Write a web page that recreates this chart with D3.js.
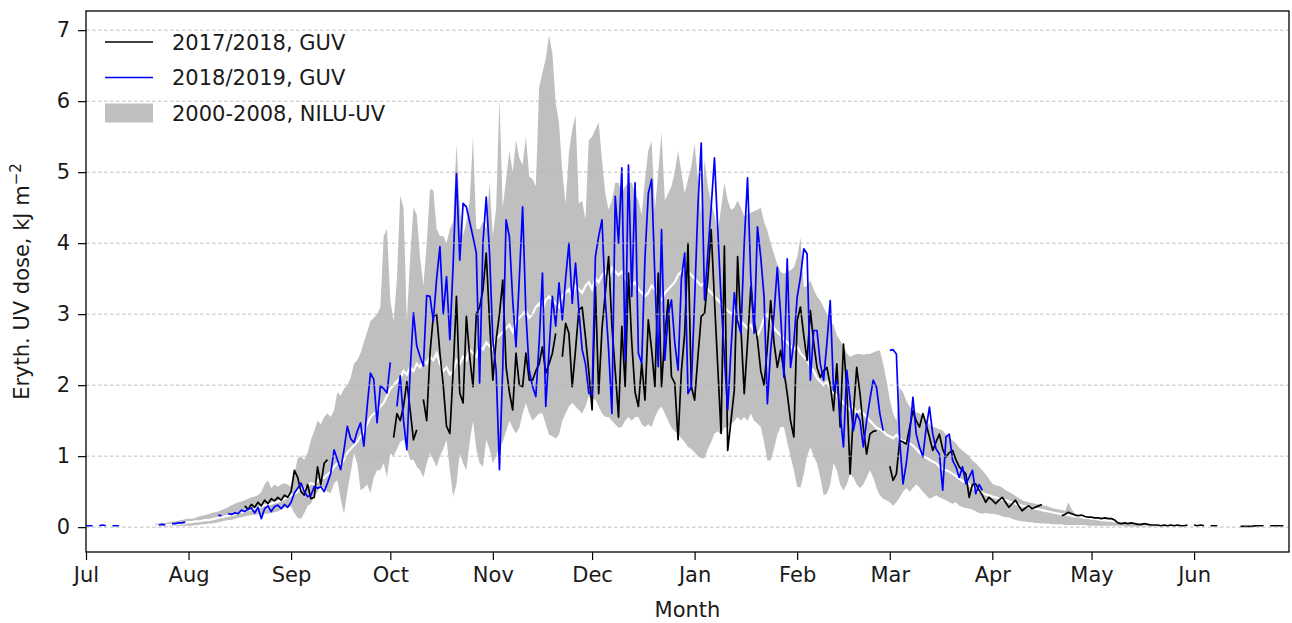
<!DOCTYPE html>
<html><head><meta charset="utf-8">
<script src="https://cdn.jsdelivr.net/npm/d3@7"></script>
<style>body{margin:0;background:#fff}svg{display:block}text{font-family:"DejaVu Sans",sans-serif;fill:#1a1a1a}</style>
</head><body><svg id="c" width="1292" height="623"></svg>
<script>
// ---- data (day index 0 = 1 July) ----
const monthLabels = ["Jul","Aug","Sep","Oct","Nov","Dec","Jan","Feb","Mar","Apr","May","Jun"];
const monthStartDays = [0,31,62,92,123,153,184,215,243,274,304,335];
const yTicks = [0,1,2,3,4,5,6,7];
const seriesNames = ["2017/2018, GUV","2018/2019, GUV","2000-2008, NILU-UV"];

const bandStartDay = 21;
const bandUpper = [
0.05,0.05,0.06,0.06,0.07,0.08,0.08,0.09,0.10,0.11,
0.12,0.12,0.13,0.15,0.16,0.17,0.18,0.20,0.21,0.22,
0.24,0.26,0.28,0.31,0.33,0.35,0.36,0.38,0.40,0.42,
0.43,0.45,0.50,0.60,0.66,0.55,0.60,0.57,0.60,0.62,
0.60,0.57,0.75,0.97,1.00,0.95,1.05,1.23,1.35,1.50,
1.45,1.55,1.60,1.55,1.65,1.90,1.85,1.95,2.00,2.10,
2.30,2.35,2.45,2.60,2.75,2.90,2.95,3.00,3.10,4.10,
4.20,3.20,2.90,3.50,4.67,4.50,2.90,3.80,4.50,4.40,
3.80,3.40,4.00,4.76,4.75,4.20,4.10,4.10,4.00,4.20,
4.30,5.40,4.50,4.10,4.30,4.60,5.50,4.20,4.20,4.30,
4.20,4.85,4.10,4.50,6.04,4.50,4.90,5.30,5.00,5.45,
5.20,5.10,5.50,4.94,4.90,4.80,6.20,6.40,6.60,6.93,
6.67,5.97,5.70,5.00,4.56,5.27,5.60,5.80,4.56,4.60,
4.33,5.45,5.50,5.60,5.70,5.17,4.70,4.47,4.60,4.85,
4.85,4.70,4.80,4.85,4.85,4.70,4.60,4.40,4.90,5.30,
5.44,4.47,5.00,5.56,4.60,4.70,4.80,5.00,5.30,5.00,
4.70,4.90,5.08,5.40,4.90,4.38,5.18,4.80,4.57,4.40,
4.14,4.50,4.85,4.60,4.47,4.50,4.60,4.50,4.38,4.40,
4.43,4.45,4.47,4.50,4.30,4.18,4.00,3.85,3.70,3.60,
3.57,3.60,3.62,3.66,3.80,4.08,3.38,3.40,3.47,3.35,
3.25,3.19,3.10,3.00,2.90,2.85,2.70,2.63,2.55,2.45,
2.40,2.42,2.44,2.44,2.43,2.44,2.44,2.46,2.48,2.49,
2.30,2.07,1.80,1.60,1.50,1.97,1.90,1.78,1.70,1.65,
1.62,1.60,1.55,1.50,1.45,1.41,1.40,1.38,1.36,1.30,
1.26,1.22,1.18,1.12,1.08,1.04,1.00,0.94,0.90,0.85,
0.80,0.74,0.68,0.61,0.59,0.58,0.56,0.52,0.50,0.47,
0.44,0.41,0.38,0.36,0.35,0.34,0.33,0.32,0.31,0.30,
0.29,0.27,0.26,0.25,0.24,0.23,0.35,0.25,0.19,0.18,
0.17,0.16,0.14,0.13,0.13,0.12,0.12,0.11,0.10,0.09,
0.08,0.08,0.07,0.06,0.06,0.05,0.05,0.04,0.04,0.04,
0.03,0.03,0.03,0.03,0.03,0.03,0.02,0.02,0.02,0.02,
0.02,0.02,0.02,0.02,0.02];
const bandLower = [
0.00,0.005,0.01,0.01,0.01,0.015,0.015,0.02,0.02,0.02,
0.02,0.02,0.03,0.03,0.04,0.04,0.05,0.05,0.06,0.07,
0.08,0.09,0.10,0.10,0.12,0.13,0.14,0.15,0.16,0.17,
0.17,0.18,0.18,0.19,0.19,0.20,0.21,0.22,0.25,0.27,
0.29,0.29,0.20,0.13,0.12,0.20,0.30,0.33,0.43,0.50,
0.57,0.55,0.50,0.48,0.62,0.66,0.40,0.19,0.50,0.76,
1.04,0.90,0.52,0.55,0.60,0.48,0.70,0.80,0.80,0.90,
0.70,1.04,1.00,1.10,1.20,1.23,1.10,0.95,0.95,0.85,
0.80,0.70,0.90,1.04,0.95,0.85,1.00,1.10,1.23,0.80,
0.43,0.60,1.04,0.90,0.80,1.20,1.50,1.10,0.90,0.85,
1.23,1.10,0.90,1.00,1.14,1.20,1.35,1.50,1.40,1.32,
1.40,1.60,1.75,1.60,1.50,1.55,1.60,1.60,1.45,1.30,
1.28,1.25,1.30,1.50,1.60,1.70,1.75,1.70,1.65,1.60,
1.70,1.84,1.80,1.80,1.70,1.60,1.55,1.55,1.50,1.45,
1.40,1.41,1.50,1.55,1.50,1.55,1.55,1.45,1.41,1.45,
1.41,1.55,1.65,1.70,1.60,1.50,1.40,1.35,1.32,1.25,
1.20,1.13,1.10,1.05,1.00,0.97,0.97,1.10,1.20,1.32,
1.35,1.30,1.40,1.41,1.45,1.50,1.55,1.50,1.55,1.50,
1.60,1.50,1.46,1.41,1.20,0.94,0.94,1.10,1.30,1.41,
1.41,1.20,0.99,0.80,0.57,0.56,0.75,1.00,1.13,1.00,
0.90,0.70,0.45,0.47,0.60,0.90,0.80,0.60,0.52,0.60,
0.75,0.70,0.60,0.55,0.60,0.70,0.80,0.70,0.55,0.45,
0.40,0.38,0.35,0.30,0.35,0.42,0.50,0.55,0.50,0.55,
0.60,0.56,0.50,0.45,0.40,0.42,0.45,0.42,0.40,0.38,
0.35,0.33,0.35,0.30,0.28,0.27,0.26,0.25,0.22,0.20,
0.19,0.20,0.19,0.19,0.18,0.17,0.15,0.14,0.14,0.12,
0.10,0.09,0.08,0.08,0.07,0.07,0.06,0.06,0.05,0.05,
0.05,0.04,0.04,0.04,0.04,0.03,0.03,0.03,0.03,0.03,
0.03,0.03,0.02,0.02,0.02,0.02,0.02,0.02,0.02,0.02,
0.02,0.02,0.02,0.01,0.01,0.01,0.01,0.01,0.01,0.01,
0.01,0.01,0.01,0.01,0.01,0.01,0.01,0.01,0.01,0.01,
0.01,0.01,0.01,0.01,0.01];
const bandMean = [
0.02,0.02,0.03,0.03,0.03,0.04,0.04,0.05,0.05,0.06,
0.07,0.07,0.08,0.08,0.09,0.10,0.10,0.11,0.12,0.13,
0.14,0.15,0.16,0.17,0.18,0.20,0.21,0.22,0.24,0.25,
0.26,0.28,0.29,0.31,0.32,0.33,0.35,0.36,0.38,0.40,
0.42,0.45,0.47,0.50,0.55,0.52,0.58,0.62,0.60,0.65,
0.68,0.70,0.74,0.78,0.85,0.90,0.88,0.95,1.05,1.10,
1.15,1.20,1.28,1.35,1.45,1.55,1.60,1.62,1.70,1.75,
1.85,1.95,2.00,2.05,2.10,2.20,2.15,2.25,2.20,2.30,
2.25,2.35,2.30,2.40,2.35,2.45,2.30,2.20,2.25,2.15,
2.20,2.35,2.30,2.40,2.35,2.50,2.45,2.40,2.55,2.50,
2.60,2.55,2.50,2.65,2.70,2.75,2.80,2.85,2.75,2.90,
2.95,3.00,3.05,2.95,3.00,3.10,3.15,3.05,3.20,3.25,
3.20,3.15,3.10,3.25,3.30,3.35,3.25,3.40,3.35,3.30,
3.40,3.45,3.35,3.50,3.45,3.55,3.60,3.50,3.65,3.60,
3.55,3.60,3.50,3.45,3.40,3.45,3.35,3.30,3.25,3.30,
3.40,3.35,3.25,3.20,3.30,3.35,3.40,3.45,3.55,3.60,
3.65,3.60,3.55,3.50,3.45,3.40,3.45,3.35,3.30,3.25,
3.20,3.15,3.10,3.05,3.00,3.05,2.95,2.90,2.85,2.80,
2.85,2.75,2.70,2.80,2.95,3.00,2.90,2.80,2.75,2.70,
2.65,2.60,2.55,2.50,2.55,2.45,2.40,2.35,2.25,2.20,
2.10,2.05,2.00,2.05,1.95,1.90,1.85,1.80,1.75,1.70,
1.65,1.70,1.60,1.65,1.60,1.55,1.50,1.45,1.40,1.38,
1.35,1.30,1.28,1.25,1.30,1.25,1.20,1.22,1.18,1.15,
1.10,1.05,1.00,0.98,0.95,0.92,0.90,0.85,0.82,0.80,
0.78,0.75,0.72,0.68,0.65,0.62,0.60,0.56,0.52,0.50,
0.48,0.46,0.45,0.43,0.42,0.40,0.39,0.38,0.36,0.35,
0.33,0.32,0.30,0.29,0.28,0.27,0.26,0.25,0.24,0.23,
0.22,0.21,0.20,0.19,0.18,0.18,0.17,0.16,0.15,0.15,
0.14,0.13,0.13,0.12,0.12,0.11,0.10,0.10,0.09,0.09,
0.08,0.08,0.07,0.07,0.06,0.06,0.05,0.05,0.05,0.04,
0.04,0.04,0.03,0.03,0.03,0.03,0.03,0.02,0.02,0.02,
0.02,0.02,0.02,0.02,0.02];

const guv1718StartDay = 48;
const guv1718 = [
0.30,0.25,0.32,0.28,0.35,0.30,0.38,0.33,0.40,0.37,
0.42,0.38,0.45,0.42,0.50,0.80,0.70,0.50,0.45,0.60,
0.40,0.42,0.85,0.60,0.90,0.95,
null,null,null,null,null,null,null,null,null,null,null,null,null,null,null,null,null,null,null,
1.26,1.60,1.50,1.70,2.05,1.65,1.23,1.37,
null,
1.80,1.50,2.45,2.97,3.00,2.45,2.00,1.42,1.32,
2.20,3.25,1.89,1.75,2.97,2.40,1.98,3.00,3.10,3.34,
3.86,2.90,2.07,2.64,3.00,3.48,2.26,1.90,1.65,2.45,
2.00,1.98,2.45,2.07,2.07,2.20,2.30,2.54,2.17,2.30,2.45,2.73,
null,
2.40,2.87,2.73,1.98,2.50,3.06,3.10,2.68,2.20,1.65,
3.39,1.88,2.80,3.30,3.81,2.83,2.20,1.55,2.83,1.98,
3.58,2.60,1.90,1.70,2.31,1.79,2.92,2.50,1.98,3.58,
1.98,2.70,3.20,2.12,2.03,1.23,2.20,2.73,4.00,1.98,
1.79,2.40,2.97,3.01,3.50,4.19,3.20,2.26,1.32,3.96,
1.08,1.50,1.93,3.81,2.80,1.88,2.60,3.39,2.90,2.64,
2.20,2.00,2.54,3.19,2.60,2.25,2.49,2.20,1.88,1.50,
1.27,2.91,3.10,2.70,2.35,3.05,2.60,2.25,2.11,2.20,
2.25,2.00,1.64,2.30,1.41,2.58,1.97,0.75,1.60,2.25,
1.88,1.40,1.03,1.31,1.35,1.36,
null,null,null,
0.86,0.66,0.75,1.22,1.20,1.17,1.40,1.64,1.50,1.41,
1.60,1.45,1.27,1.08,1.20,1.31,1.10,0.99,1.05,1.08,
0.95,0.85,0.80,0.75,0.42,0.60,0.61,0.52,0.45,0.35,
0.42,0.38,0.33,0.38,0.42,0.35,0.28,0.33,0.38,0.30,
0.23,0.27,0.30,0.26,0.28,0.30,0.32,
null,null,null,null,null,
0.16,0.18,0.21,0.19,0.17,0.16,0.17,0.15,0.14,0.14,
0.13,0.13,0.12,0.13,0.12,0.12,0.10,0.06,0.05,0.06,
0.05,0.06,0.05,0.04,0.04,0.05,0.04,0.03,0.03,0.03,0.02,
0.03,0.02,0.03,0.02,0.03,0.02,0.02,0.03,
null,
0.03,0.02,0.03,0.02,
null,
0.02,0.02,0.02,
null,null,null,null,null,null,
0.01,0.01,0.01,0.01,0.015,0.02,0.02,0.02,
null,
0.02,0.02,0.02,0.02,0.02];

const guv1819StartDay = 0;
const guv1819 = [
0.02,0.02,0.02,null,0.02,0.03,0.02,null,0.02,0.02,0.02,
null,null,null,null,null,null,null,null,null,null,null,
0.03,0.04,0.03,null,0.05,0.05,0.06,0.06,0.07,
null,null,null,null,null,null,null,null,null,
0.17,0.16,
null,
0.19,0.18,0.20,0.19,0.24,0.22,0.25,0.27,
0.20,0.28,0.12,0.26,0.30,0.22,0.29,0.31,0.26,0.32,
0.28,0.35,0.48,0.55,0.62,0.50,0.43,0.45,0.57,0.55,
0.57,0.50,0.62,0.76,1.09,0.95,0.81,1.09,1.42,1.25,
1.19,1.35,1.47,1.14,1.70,2.17,2.08,1.47,1.99,1.95,
1.89,2.32,null,1.70,2.13,1.50,1.09,2.20,3.02,2.55,
2.40,2.27,3.26,3.25,2.90,3.50,3.95,3.00,3.53,2.64,
3.70,4.98,3.76,4.56,4.51,4.30,4.09,3.86,2.03,4.00,
4.65,3.86,2.64,2.21,0.81,2.26,4.33,4.09,3.20,2.54,
3.50,4.51,3.00,2.21,1.98,1.84,2.60,3.58,1.70,2.50,
3.25,2.83,3.44,2.92,3.50,4.00,3.15,3.72,3.06,2.50,
2.30,1.89,1.86,3.81,4.10,4.33,3.20,2.50,1.60,4.66,
4.00,5.06,2.35,5.10,3.25,4.85,2.45,2.31,3.80,4.70,
4.90,3.50,2.26,4.19,2.35,3.00,3.20,2.60,2.21,3.50,
3.86,1.88,1.98,3.20,4.52,5.41,3.20,3.86,4.50,5.20,
4.20,3.20,2.40,1.65,2.50,3.30,2.90,2.73,4.00,4.92,
3.50,2.73,4.23,3.80,3.24,1.74,2.50,3.00,3.66,3.00,
2.11,3.78,2.25,2.60,3.24,3.52,3.92,3.85,2.07,2.77,
2.77,2.30,2.07,2.60,3.19,1.92,2.07,1.60,1.13,2.21,
1.80,1.36,1.60,1.50,1.13,1.50,1.80,2.07,1.97,1.60,
1.36,null,2.49,2.50,2.44,1.22,0.61,0.90,1.30,1.83,
1.31,1.13,0.99,1.40,1.69,1.31,1.10,1.03,0.52,1.27,
1.31,0.94,0.85,0.70,0.85,0.61,0.70,0.80,0.47,0.60,0.52];

// ---- layout ----
const svg = d3.select("#c");
const mLeft = 86, mRight = 1289, mTop = 11, mBottom = 552;
const x = d3.scaleLinear().domain([0, 364]).range([86, 1290]);
const y = d3.scaleLinear().domain([-0.35, 7.27]).range([mBottom, mTop]);

svg.append("defs").append("clipPath").attr("id","clip")
  .append("rect").attr("x",mLeft).attr("y",mTop).attr("width",mRight-mLeft).attr("height",mBottom-mTop);

const plot = svg.append("g").attr("clip-path","url(#clip)");

const bandData = bandUpper.map((u,i)=>({d: bandStartDay+i, u, l: bandLower[i], m: bandMean[i]}));
plot.append("path").datum(bandData)
  .attr("fill","#bfbfbf").attr("stroke","none")
  .attr("d", d3.area().x(p=>x(p.d)).y0(p=>y(p.l)).y1(p=>y(p.u)));

// grid (above fill, below lines)
svg.append("g").selectAll("line").data(yTicks).join("line")
  .attr("x1",mLeft).attr("x2",mRight).attr("y1",d=>y(d)).attr("y2",d=>y(d))
  .attr("stroke","#b8b8b8").attr("stroke-width",0.9).attr("stroke-dasharray","3.5,2.5");

plot.append("path").datum(bandData)
  .attr("fill","none").attr("stroke","#ffffff").attr("stroke-width",2.2)
  .attr("d", d3.line().x(p=>x(p.d)).y(p=>y(p.m)));

function series(arr, start){ return arr.map((v,i)=>({d:start+i, v})); }
const lineGen = d3.line().defined(p=>p.v!==null).x(p=>x(p.d)).y(p=>y(p.v));

plot.append("path").datum(series(guv1718, guv1718StartDay))
  .attr("fill","none").attr("stroke","#000000").attr("stroke-width",1.7).attr("stroke-linejoin","round")
  .attr("d", lineGen);
plot.append("path").datum(series(guv1819, guv1819StartDay))
  .attr("fill","none").attr("stroke","#0000ff").attr("stroke-width",1.7).attr("stroke-linejoin","round")
  .attr("d", lineGen);

// axes
const xAxis = d3.axisBottom(x).tickValues(monthStartDays).tickFormat((d,i)=>monthLabels[i]).tickSize(8).tickPadding(7);
const gx = svg.append("g").attr("transform",`translate(0,${mBottom})`).call(xAxis);
gx.select(".domain").remove();
gx.selectAll("text").attr("font-size",21).attr("font-family","DejaVu Sans").attr("fill","#1a1a1a");
gx.selectAll("line").attr("stroke","#000").attr("stroke-width",1.2);

const yAxis = d3.axisLeft(y).tickValues(yTicks).tickFormat(d3.format("d")).tickSize(8).tickPadding(8);
const gy = svg.append("g").attr("transform",`translate(${mLeft},0)`).call(yAxis);
gy.select(".domain").remove();
gy.selectAll("text").attr("font-size",21).attr("font-family","DejaVu Sans").attr("fill","#1a1a1a");
gy.selectAll("line").attr("stroke","#000").attr("stroke-width",1.2);

svg.append("rect").attr("x",mLeft).attr("y",mTop).attr("width",mRight-mLeft).attr("height",mBottom-mTop)
  .attr("fill","none").attr("stroke","#000").attr("stroke-width",1.3);

svg.append("text").attr("x",(mLeft+mRight)/2).attr("y",617).attr("text-anchor","middle")
  .attr("font-size",21).text("Month");

const yl = svg.append("text").attr("transform",`translate(29,${(mTop+mBottom)/2}) rotate(-90)`)
  .attr("text-anchor","middle").attr("font-size",21);
yl.append("tspan").text("Eryth. UV dose, kJ m");
yl.append("tspan").attr("dy",-8).attr("font-size",15).text("\u22122");

// legend
const leg = svg.append("g");
const legY = [42, 77.5, 113];
leg.append("line").attr("x1",105).attr("x2",153).attr("y1",legY[0]).attr("y2",legY[0]).attr("stroke","#000").attr("stroke-width",1.7);
leg.append("line").attr("x1",105).attr("x2",153).attr("y1",legY[1]).attr("y2",legY[1]).attr("stroke","#0000ff").attr("stroke-width",1.7);
leg.append("rect").attr("x",105).attr("y",legY[2]-9.5).attr("width",48).attr("height",19).attr("fill","#bfbfbf");
leg.selectAll("text").data(seriesNames).join("text")
  .attr("x",172).attr("y",(d,i)=>legY[i]+7.8).attr("font-size",21).text(d=>d);
</script></body></html>
